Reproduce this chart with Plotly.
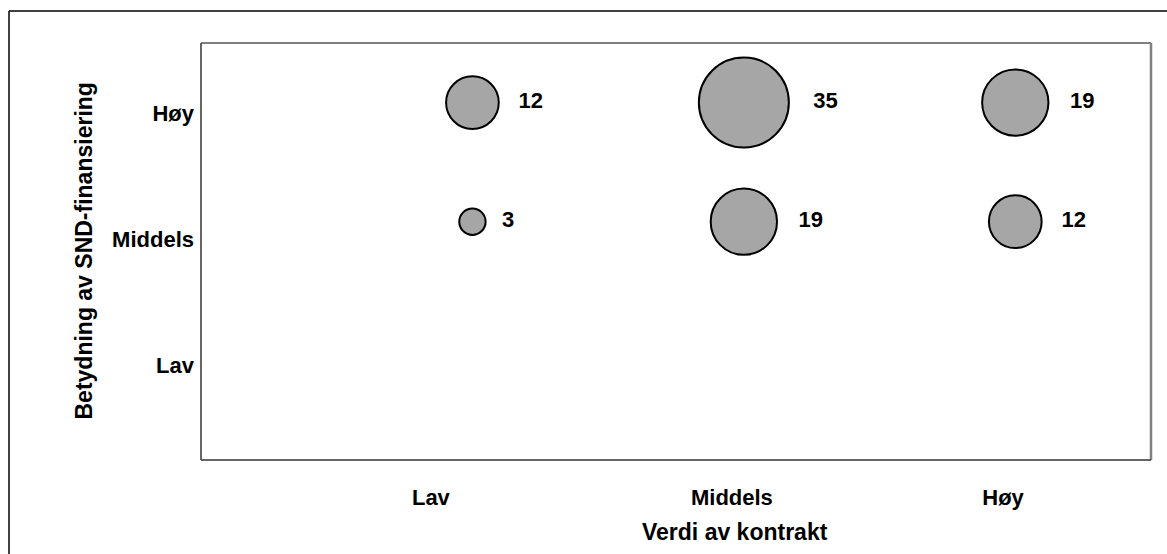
import plotly.graph_objects as go

# Bubble chart: value of contract vs. importance of SND financing
x_levels = [1, 2, 3, 1, 2, 3]          # Lav, Middels, Høy on the contract-value axis
y_levels = [3, 3, 3, 2, 2, 2]          # Høy row, Middels row
counts = [12, 35, 19, 3, 19, 12]

x_tick_vals = [0.847, 1.956, 2.955]
x_tick_text = ["Lav", "Middels", "Høy"]
y_tick_vals = [0.797, 1.855, 2.913]
y_tick_text = ["Lav", "Middels", "Høy"]

FONT = "Liberation Sans, Arial, sans-serif"
max_diam = 90
sizeref = 2.0 * max(counts) / (max_diam ** 2)

fig = go.Figure()
fig.add_trace(go.Scatter(
    x=x_levels,
    y=y_levels,
    mode="markers+text",
    text=[str(c) for c in counts],
    texttemplate="\u00a0\u00a0%{text}",
    textposition="middle right",
    textfont=dict(family=FONT, size=22, color="black", weight="bold"),
    marker=dict(
        size=counts,
        sizemode="area",
        sizeref=sizeref,
        color="#A6A6A6",
        opacity=1,
        line=dict(color="black", width=2),
    ),
    cliponaxis=False,
    hoverinfo="skip",
    showlegend=False,
))

fig.update_xaxes(
    range=[0, 3.5],
    tickvals=x_tick_vals,
    ticktext=x_tick_text,
    ticks="",
    showgrid=False,
    zeroline=False,
    showline=False,
    ticklabelstandoff=22,
    tickfont=dict(family=FONT, size=22, color="black", weight="bold"),
)
fig.update_yaxes(
    range=[0, 3.5],
    tickvals=y_tick_vals,
    ticktext=y_tick_text,
    ticks="",
    showgrid=False,
    zeroline=False,
    showline=False,
    ticklabelstandoff=6,
    tickfont=dict(family=FONT, size=22, color="black", weight="bold"),
)

shapes = [
    # outer frame (top and left edges visible)
    dict(type="line", xref="paper", yref="paper", x0=-0.2021, x1=1.03,
         y0=1.0767, y1=1.0767, line=dict(color="black", width=1.5)),
    dict(type="line", xref="paper", yref="paper", x0=-0.2021, x1=-0.2021,
         y0=1.0767, y1=-0.3, line=dict(color="black", width=1.5)),
    # plot-area frame: grey top/right, dark left/bottom
    dict(type="line", xref="paper", yref="paper", x0=0, x1=1, y0=1, y1=1,
         line=dict(color="#808080", width=2)),
    dict(type="line", xref="paper", yref="paper", x0=1, x1=1, y0=0, y1=1,
         line=dict(color="#808080", width=2.5)),
    dict(type="line", xref="paper", yref="paper", x0=0, x1=0, y0=0, y1=1,
         line=dict(color="#333333", width=1.5)),
    dict(type="line", xref="paper", yref="paper", x0=0, x1=1, y0=0, y1=0,
         line=dict(color="#333333", width=1.5)),
]

annotations = [
    dict(text="Verdi av kontrakt", xref="paper", yref="paper",
         x=(735 - 201) / 950, y=-(532 - 460) / 417, xanchor="center", yanchor="middle",
         showarrow=False, font=dict(family=FONT, size=23, color="black", weight="bold")),
    dict(text="Betydning av SND-finansiering", xref="paper", yref="paper",
         x=-(201 - 83) / 950, y=0.5, xanchor="center", yanchor="middle", textangle=-90,
         showarrow=False, font=dict(family=FONT, size=23, color="black", weight="bold")),
]

fig.update_layout(
    width=1167,
    height=554,
    margin=dict(l=201, r=16, t=43, b=94),
    paper_bgcolor="white",
    plot_bgcolor="white",
    shapes=shapes,
    annotations=annotations,
)

fig.write_html("out.html")
